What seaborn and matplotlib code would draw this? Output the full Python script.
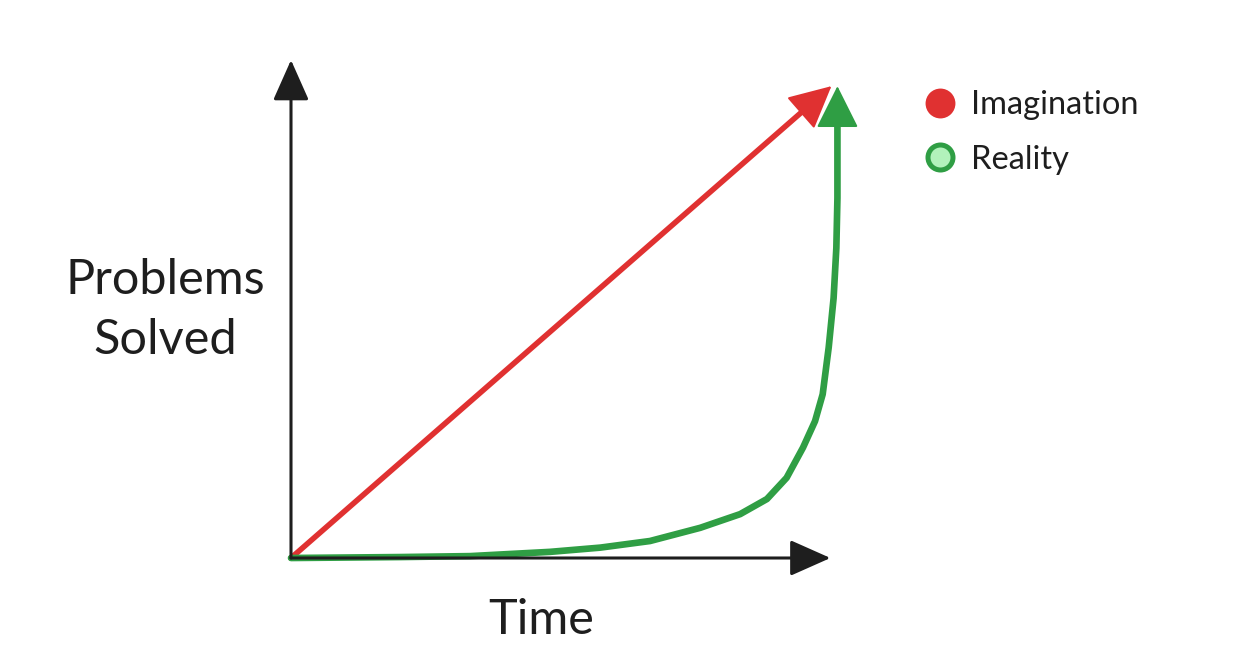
import numpy as np
import pandas as pd
import matplotlib.pyplot as plt
import seaborn as sns
from matplotlib.lines import Line2D
from matplotlib.patches import Rectangle

# values (time 0..10, problems solved 0..10)
time_imagination = [0, 9.89]
imagination = [0, 10]

time_reality = [0, 2.0, 3.28, 4.74, 5.66, 6.57, 7.49, 8.22, 8.71, 9.07, 9.37,
                9.59, 9.73, 9.84, 9.93, 9.98, 10.0, 10.0, 10.0]
reality = [0, 0.02, 0.04, 0.13, 0.22, 0.36, 0.64, 0.93, 1.25, 1.70, 2.34,
           2.90, 3.47, 4.46, 5.51, 6.57, 7.63, 8.69, 10.0]

series_names = ["Imagination", "Reality"]
x_label = "Time"
y_label = "Problems\nSolved"

RED = "#e03131"
GREEN = "#2f9e44"
LIGHT_GREEN = "#b2f2bb"
INK = "#1e1e1e"

sns.set_theme(style="white")
plt.rcParams['font.family'] = ['Lato', 'DejaVu Sans']

fig = plt.figure(figsize=(12.5, 6.54), dpi=100)
ax = fig.add_axes([291 / 1250, 96 / 654, 559 / 1250, 503 / 654])
ax.set_xlim(0, 10.23)
ax.set_ylim(0, 10.66)
ax.axis("off")

# axes drawn as arrows
for tip in [(0.965, 0), (0, 0.99)]:
    ax.annotate("", xy=tip, xytext=(0, 0), xycoords="axes fraction",
                arrowprops=dict(arrowstyle="-|>,head_length=0.9,head_width=0.4",
                                mutation_scale=28, lw=2.2, color=INK,
                                shrinkA=0, shrinkB=0))

df_im = pd.DataFrame({"t": time_imagination, "v": imagination})
df_re = pd.DataFrame({"t": time_reality, "v": reality})
# estimator=None so the vertical run at t=10 is not averaged away
sns.lineplot(data=df_im, x="t", y="v", ax=ax, color=RED, lw=4.0,
             solid_capstyle="round", sort=False, estimator=None)
sns.lineplot(data=df_re, x="t", y="v", ax=ax, color=GREEN, lw=4.8,
             solid_capstyle="round", solid_joinstyle="round", sort=False,
             estimator=None)

# keep the strokes from poking through the arrow tips
for line in ax.lines:
    ytop = max(line.get_ydata())
    clip = Rectangle((-1, -1), 20, ytop + 1 - 0.35, transform=ax.transData)
    line.set_clip_path(clip)


def head(xs, ys, color):
    # arrowhead along the last segment of the series
    x0, y0 = xs[-2], ys[-2]
    x1, y1 = xs[-1], ys[-1]
    f = 0.08 if len(xs) == 2 else 0.3
    ax.annotate("", xy=(x1, y1), xytext=(x1 - (x1 - x0) * f, y1 - (y1 - y0) * f),
                arrowprops=dict(arrowstyle="-|>,head_length=0.9,head_width=0.45",
                                mutation_scale=30, lw=1.5, color=color,
                                shrinkA=0, shrinkB=0, joinstyle="round"))


head(time_imagination, imagination, RED)
head(time_reality, reality, GREEN)

fig.text(165 / 1250, 1 - 310 / 654, y_label, ha="center", va="center",
         fontsize=35, color=INK, linespacing=1.45)
fig.text(541 / 1250, 1 - 620 / 654, x_label, ha="center", va="center",
         fontsize=35, color=INK)

handles = [
    Line2D([], [], ls="none", marker="o", markersize=21.5, markerfacecolor=RED,
           markeredgecolor=RED, markeredgewidth=0),
    Line2D([], [], ls="none", marker="o", markersize=18, markerfacecolor=LIGHT_GREEN,
           markeredgecolor=GREEN, markeredgewidth=3.6),
]
leg = fig.legend(handles, series_names, loc="upper left",
                 bbox_to_anchor=(904 / 1250, 1 - 74 / 654), frameon=False,
                 fontsize=23.5, handlelength=1.2, handletextpad=0.36,
                 labelspacing=0.75, borderpad=0)
for t in leg.get_texts():
    t.set_color(INK)

fig.savefig("out.png", dpi=100)
